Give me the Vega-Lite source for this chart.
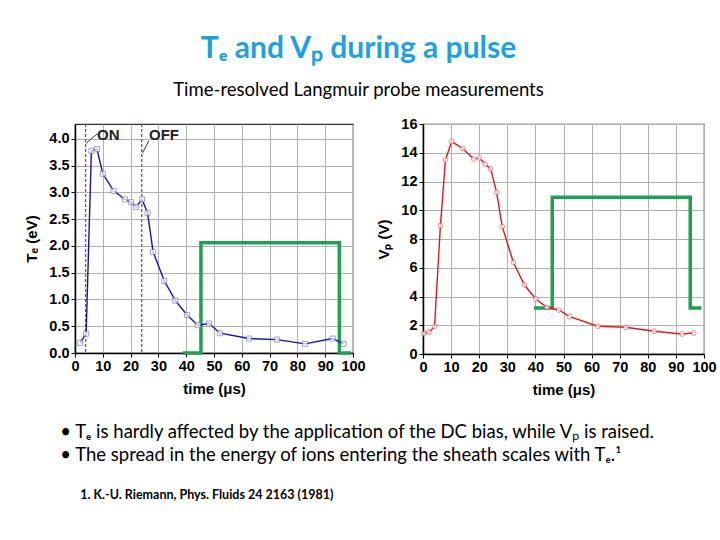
{
  "$schema": "https://vega.github.io/schema/vega-lite/v6.json",
  "background": "white",
  "padding": {"left": 24, "top": 33, "right": 0, "bottom": 0},
  "datasets": {
    "te": [
      {"t": 1.8, "v": 0.19}, {"t": 4.0, "v": 0.36}, {"t": 5.9, "v": 3.78},
      {"t": 7.9, "v": 3.81}, {"t": 10.0, "v": 3.35}, {"t": 13.9, "v": 3.03},
      {"t": 18.0, "v": 2.87}, {"t": 20.1, "v": 2.82}, {"t": 22.0, "v": 2.73},
      {"t": 24.1, "v": 2.87}, {"t": 26.1, "v": 2.62}, {"t": 28.1, "v": 1.89},
      {"t": 32.1, "v": 1.35}, {"t": 36.1, "v": 0.98}, {"t": 40.3, "v": 0.71},
      {"t": 44.2, "v": 0.52}, {"t": 48.2, "v": 0.55}, {"t": 52.2, "v": 0.37},
      {"t": 62.6, "v": 0.27}, {"t": 72.7, "v": 0.25}, {"t": 82.7, "v": 0.17},
      {"t": 92.7, "v": 0.27}, {"t": 96.6, "v": 0.17}
    ],
    "vp": [
      {"t": 0.2, "v": 1.42}, {"t": 2.1, "v": 1.51}, {"t": 4.1, "v": 1.9},
      {"t": 6.2, "v": 8.93}, {"t": 8.0, "v": 13.5}, {"t": 10.2, "v": 14.78},
      {"t": 14.1, "v": 14.3}, {"t": 18.1, "v": 13.57}, {"t": 20.1, "v": 13.64},
      {"t": 22.1, "v": 13.2}, {"t": 24.1, "v": 12.88}, {"t": 26.2, "v": 11.25},
      {"t": 28.2, "v": 8.86}, {"t": 32.2, "v": 6.36}, {"t": 36.1, "v": 4.8},
      {"t": 40.1, "v": 3.83}, {"t": 44.1, "v": 3.25}, {"t": 48.3, "v": 3.06},
      {"t": 52.2, "v": 2.6}, {"t": 62.2, "v": 1.93}, {"t": 72.2, "v": 1.86},
      {"t": 82.2, "v": 1.58}, {"t": 92.2, "v": 1.39}, {"t": 96.3, "v": 1.46}
    ],
    "pulseL": [
      {"i": 1, "t": 38.7, "v": 0}, {"i": 2, "t": 45.3, "v": 0},
      {"i": 3, "t": 45.3, "v": 2.06}, {"i": 4, "t": 95.1, "v": 2.06},
      {"i": 5, "t": 95.1, "v": 0}, {"i": 6, "t": 99.3, "v": 0}
    ],
    "pulseR": [
      {"i": 1, "t": 39.5, "v": 3.2}, {"i": 2, "t": 46.0, "v": 3.2},
      {"i": 3, "t": 46.0, "v": 10.9}, {"i": 4, "t": 95.1, "v": 10.9},
      {"i": 5, "t": 95.1, "v": 3.2}, {"i": 6, "t": 99.1, "v": 3.2}
    ],
    "marks": [{"t": 3.8}, {"t": 24.0}],
    "labels": [
      {"t": 12.0, "v": 4.07, "label": "ON"},
      {"t": 32.0, "v": 4.08, "label": "OFF"}
    ],
    "arrows": [
      {"t": 8.1, "v": 4.1, "t2": 4.0, "v2": 3.92},
      {"t": 26.6, "v": 3.97, "t2": 24.3, "v2": 3.74}
    ]
  },
  "title": {
    "text": [
      "• Tₑ is hardly affected by the application of the DC bias, while Vₚ is raised.",
      "• The spread in the energy of ions entering the sheath scales with Tₑ.¹"
    ],
    "subtitle": "\u2800\u28001.  K.-U. Riemann, Phys. Fluids 24 2163 (1981)",
    "orient": "bottom",
    "anchor": "start",
    "dx": 36,
    "offset": 25,
    "font": "Lato",
    "fontSize": 18.5,
    "fontWeight": "normal",
    "color": "black",
    "lineHeight": 23,
    "subtitleFont": "Lato",
    "subtitleFontSize": 12.5,
    "subtitleFontWeight": "bold",
    "subtitleColor": "black",
    "subtitlePadding": 24
  },
  "vconcat": [
    {
      "title": {
        "text": "Tₑ and Vₚ during a pulse",
        "subtitle": "Time-resolved Langmuir probe measurements",
        "anchor": "middle",
        "dx": -12,
        "font": "Lato",
        "fontSize": 30,
        "fontWeight": "bold",
        "color": "#1ea2dc",
        "subtitleFont": "Lato",
        "subtitleFontSize": 18.5,
        "subtitleColor": "black",
        "subtitlePadding": 17,
        "offset": 16
      },
      "spacing": 10,
      "hconcat": [
        {
          "width": 278,
          "height": 229,
          "layer": [
            {
              "data": {"name": "pulseL"},
              "mark": {"type": "line", "color": "#1fa152", "strokeWidth": 3.5},
              "encoding": {
                "x": {
                  "field": "t", "type": "quantitative",
                  "scale": {"domain": [0, 100], "nice": false},
                  "axis": {"values": [0, 10, 20, 30, 40, 50, 60, 70, 80, 90, 100], "title": "time (μs)"}
                },
                "y": {
                  "field": "v", "type": "quantitative",
                  "scale": {"domain": [0, 4.28], "nice": false},
                  "axis": {"values": [0, 0.5, 1, 1.5, 2, 2.5, 3, 3.5, 4], "format": ".1f", "title": "Tₑ (eV)"}
                },
                "order": {"field": "i"}
              }
            },
            {
              "data": {"name": "marks"},
              "mark": {"type": "rule", "color": "#c0392b", "strokeDash": [3, 2], "strokeWidth": 1.3},
              "encoding": {
                "x": {
                  "field": "t", "type": "quantitative",
                  "axis": {"values": [0, 10, 20, 30, 40, 50, 60, 70, 80, 90, 100], "title": "time (μs)"}
                }
              }
            },
            {
              "data": {"name": "arrows"},
              "mark": {"type": "rule", "color": "#333", "strokeWidth": 1},
              "encoding": {
                "x": {
                  "field": "t", "type": "quantitative",
                  "axis": {"values": [0, 10, 20, 30, 40, 50, 60, 70, 80, 90, 100], "title": "time (μs)"}
                },
                "x2": {"field": "t2"},
                "y": {
                  "field": "v", "type": "quantitative",
                  "axis": {"values": [0, 0.5, 1, 1.5, 2, 2.5, 3, 3.5, 4], "format": ".1f", "title": "Tₑ (eV)"}
                },
                "y2": {"field": "v2"}
              }
            },
            {
              "data": {"name": "labels"},
              "mark": {"type": "text", "font": "Liberation Sans", "fontWeight": "bold", "fontSize": 15, "color": "#222"},
              "encoding": {
                "x": {
                  "field": "t", "type": "quantitative",
                  "axis": {"values": [0, 10, 20, 30, 40, 50, 60, 70, 80, 90, 100], "title": "time (μs)"}
                },
                "y": {
                  "field": "v", "type": "quantitative",
                  "axis": {"values": [0, 0.5, 1, 1.5, 2, 2.5, 3, 3.5, 4], "format": ".1f", "title": "Tₑ (eV)"}
                },
                "text": {"field": "label"}
              }
            },
            {
              "data": {"name": "te"},
              "mark": {"type": "line", "color": "#1414a0", "strokeWidth": 1.4},
              "encoding": {
                "x": {
                  "field": "t", "type": "quantitative",
                  "axis": {"values": [0, 10, 20, 30, 40, 50, 60, 70, 80, 90, 100], "title": "time (μs)"}
                },
                "y": {
                  "field": "v", "type": "quantitative",
                  "axis": {"values": [0, 0.5, 1, 1.5, 2, 2.5, 3, 3.5, 4], "format": ".1f", "title": "Tₑ (eV)"}
                }
              }
            },
            {
              "data": {"name": "te"},
              "mark": {"type": "point", "shape": "square", "size": 26, "filled": true, "fill": "white", "stroke": "#7a7ad8", "strokeWidth": 1},
              "encoding": {
                "x": {
                  "field": "t", "type": "quantitative",
                  "axis": {"values": [0, 10, 20, 30, 40, 50, 60, 70, 80, 90, 100], "title": "time (μs)"}
                },
                "y": {
                  "field": "v", "type": "quantitative",
                  "axis": {"values": [0, 0.5, 1, 1.5, 2, 2.5, 3, 3.5, 4], "format": ".1f", "title": "Tₑ (eV)"}
                }
              }
            }
          ]
        },
        {
          "width": 281,
          "height": 230,
          "layer": [
            {
              "data": {"name": "pulseR"},
              "mark": {"type": "line", "color": "#1fa152", "strokeWidth": 3.5},
              "encoding": {
                "x": {
                  "field": "t", "type": "quantitative",
                  "scale": {"domain": [0, 100], "nice": false},
                  "axis": {"values": [0, 10, 20, 30, 40, 50, 60, 70, 80, 90, 100], "title": "time (μs)"}
                },
                "y": {
                  "field": "v", "type": "quantitative",
                  "scale": {"domain": [0, 16], "nice": false},
                  "axis": {"values": [0, 2, 4, 6, 8, 10, 12, 14, 16], "title": "Vₚ (V)"}
                },
                "order": {"field": "i"}
              }
            },
            {
              "data": {"name": "vp"},
              "mark": {"type": "line", "color": "#e01818", "strokeWidth": 1.4},
              "encoding": {
                "x": {
                  "field": "t", "type": "quantitative",
                  "axis": {"values": [0, 10, 20, 30, 40, 50, 60, 70, 80, 90, 100], "title": "time (μs)"}
                },
                "y": {
                  "field": "v", "type": "quantitative",
                  "axis": {"values": [0, 2, 4, 6, 8, 10, 12, 14, 16], "title": "Vₚ (V)"}
                }
              }
            },
            {
              "data": {"name": "vp"},
              "mark": {"type": "point", "shape": "circle", "size": 24, "filled": true, "fill": "white", "stroke": "#e06060", "strokeWidth": 1},
              "encoding": {
                "x": {
                  "field": "t", "type": "quantitative",
                  "axis": {"values": [0, 10, 20, 30, 40, 50, 60, 70, 80, 90, 100], "title": "time (μs)"}
                },
                "y": {
                  "field": "v", "type": "quantitative",
                  "axis": {"values": [0, 2, 4, 6, 8, 10, 12, 14, 16], "title": "Vₚ (V)"}
                }
              }
            }
          ]
        }
      ]
    }
  ],
  "config": {
    "view": {"stroke": "#333", "strokeWidth": 1.2},
    "axis": {
      "labelFont": "Liberation Sans",
      "labelFontWeight": "bold",
      "labelFontSize": 14.5,
      "labelColor": "black",
      "labelFlush": false,
      "labelOverlap": false,
      "titleFont": "Liberation Sans",
      "titleFontWeight": "bold",
      "titleFontSize": 15,
      "titleColor": "black",
      "gridColor": "#b0b0b0",
      "domainColor": "black",
      "domainWidth": 1.5,
      "tickColor": "black",
      "tickSize": 4,
      "labelPadding": 2
    },
    "axisX": {"titlePadding": 9},
    "axisY": {"titlePadding": 9}
  }
}
